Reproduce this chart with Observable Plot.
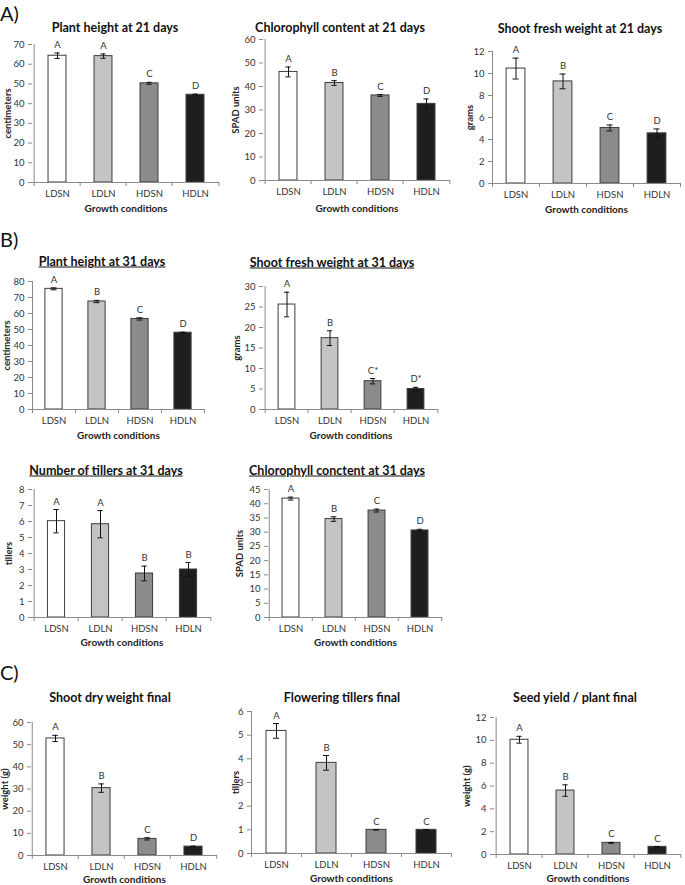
<!DOCTYPE html>
<html><head><meta charset="utf-8">
<script src="https://cdn.jsdelivr.net/npm/d3@7"></script>
<script src="https://cdn.jsdelivr.net/npm/@observablehq/plot@0.6"></script>
<style>
body{margin:0;background:#fff;font-family:Lato,"Open Sans",sans-serif;}
#page{position:relative;width:685px;height:885px;overflow:hidden;background:#fff;}
.title{position:absolute;transform:translate(-50%,-50%);font-weight:700;font-size:12.5px;white-space:nowrap;color:#111;line-height:1.2;}
.title.u{text-decoration:underline;}
.sec{position:absolute;font-size:20px;color:#111;line-height:1.2;}
.panel{position:absolute;}
</style></head><body><div id="page"></div>
<script>
// ---------- data ----------
const categories = ["LDSN", "LDLN", "HDSN", "HDLN"];
const barColors = ["#ffffff", "#c4c4c4", "#8b8b8b", "#1e1e1e"];
const sectionLabels = ["A)", "B)", "C)"];
const xLabel = "Growth conditions";

const titles = [
  "Plant height at 21 days", "Chlorophyll content at 21 days", "Shoot fresh weight at 21 days",
  "Plant height at 31 days", "Shoot fresh weight at 31 days",
  "Number of tillers at 31 days", "Chlorophyll conctent at 31 days",
  "Shoot dry weight final", "Flowering tillers final", "Seed yield / plant final"
];
const yLabels = ["centimeters", "SPAD units", "grams", "centimeters", "grams", "tillers", "SPAD units", "weight (g)", "tillers", "weight (g)"];

const p1Values = [64.3, 64.1, 50.3, 44.5], p1Errors = [1.4, 1.1, 0.5, 0.3], p1Letters = ["A", "A", "C", "D"], p1Ticks = [0, 10, 20, 30, 40, 50, 60, 70];
const p2Values = [46.2, 41.5, 36.2, 32.6], p2Errors = [2.1, 1.0, 0.4, 2.1], p2Letters = ["A", "B", "C", "D"], p2Ticks = [0, 10, 20, 30, 40, 50, 60];
const p3Values = [10.45, 9.28, 5.05, 4.56], p3Errors = [0.95, 0.67, 0.27, 0.4], p3Letters = ["A", "B", "C", "D"], p3Ticks = [0, 2, 4, 6, 8, 10, 12];
const p4Values = [75.4, 67.5, 56.6, 48.0], p4Errors = [0.6, 0.7, 0.7, 0.3], p4Letters = ["A", "B", "C", "D"], p4Ticks = [0, 10, 20, 30, 40, 50, 60, 70, 80];
const p5Values = [25.6, 17.4, 6.9, 5.0], p5Errors = [3.0, 1.8, 0.65, 0.4], p5Letters = ["A", "B", "C*", "D*"], p5Ticks = [0, 5, 10, 15, 20, 25, 30];
const p6Values = [6.02, 5.83, 2.75, 3.0], p6Errors = [0.73, 0.85, 0.46, 0.44], p6Letters = ["A", "A", "B", "B"], p6Ticks = [0, 1, 2, 3, 4, 5, 6, 7, 8];
const p7Values = [41.8, 34.6, 37.6, 30.6], p7Errors = [0.5, 0.8, 0.5, 0.4], p7Letters = ["A", "B", "C", "D"], p7Ticks = [0, 5, 10, 15, 20, 25, 30, 35, 40, 45];
const p8Values = [52.8, 30.4, 7.5, 4.0], p8Errors = [1.4, 1.9, 0.5, 0.2], p8Letters = ["A", "B", "C", "D"], p8Ticks = [0, 10, 20, 30, 40, 50, 60];
const p9Values = [5.18, 3.83, 1.0, 1.0], p9Errors = [0.31, 0.31, 0, 0], p9Letters = ["A", "B", "C", "C"], p9Ticks = [0, 1, 2, 3, 4, 5, 6];
const p10Values = [10.05, 5.6, 1.02, 0.67], p10Errors = [0.3, 0.5, 0.04, 0.03], p10Letters = ["A", "B", "C", "C"], p10Ticks = [0, 2, 4, 6, 8, 10, 12];

// ---------- layout ----------
const layout = [
  {left: 0,   axisX: 32,  axisRight: 219, yTop: 44,  yBottom: 182, labelCx: 9,   tcx: 115, tcy: 27,  u: false, xlo: 29},
  {left: 225, axisX: 263, axisRight: 450, yTop: 39,  yBottom: 180, labelCx: 237, tcx: 340, tcy: 27,  u: false, xlo: 31},
  {left: 455, axisX: 492, axisRight: 680, yTop: 51,  yBottom: 183, labelCx: 471, tcx: 580, tcy: 28,  u: false, xlo: 29},
  {left: 0,   axisX: 32,  axisRight: 204, yTop: 281, yBottom: 409, labelCx: 8,   tcx: 102, tcy: 261, u: true,  xlo: 29},
  {left: 225, axisX: 263, axisRight: 438, yTop: 286, yBottom: 409, labelCx: 238, tcx: 332, tcy: 262, u: true,  xlo: 29},
  {left: 0,   axisX: 32,  axisRight: 211, yTop: 489, yBottom: 617, labelCx: 10,  tcx: 106, tcy: 470, u: true,  xlo: 28},
  {left: 225, axisX: 268, axisRight: 442, yTop: 489, yBottom: 617, labelCx: 241, tcx: 337, tcy: 470, u: true,  xlo: 28},
  {left: 0,   axisX: 31,  axisRight: 217, yTop: 722, yBottom: 855, labelCx: 6,   tcx: 110, tcy: 697, u: false, xlo: 27},
  {left: 225, axisX: 251, axisRight: 451, yTop: 711, yBottom: 853, labelCx: 237, tcx: 342, tcy: 697, u: false, xlo: 28},
  {left: 455, axisX: 494, axisRight: 681, yTop: 717, yBottom: 854, labelCx: 468, tcx: 575, tcy: 697, u: false, xlo: 27}
];
const sectionPos = [{x: 0, y: 1}, {x: 0, y: 227}, {x: 0, y: 660}];

const panels = [
  [p1Values, p1Errors, p1Letters, p1Ticks],
  [p2Values, p2Errors, p2Letters, p2Ticks],
  [p3Values, p3Errors, p3Letters, p3Ticks],
  [p4Values, p4Errors, p4Letters, p4Ticks],
  [p5Values, p5Errors, p5Letters, p5Ticks],
  [p6Values, p6Errors, p6Letters, p6Ticks],
  [p7Values, p7Errors, p7Letters, p7Ticks],
  [p8Values, p8Errors, p8Letters, p8Ticks],
  [p9Values, p9Errors, p9Letters, p9Ticks],
  [p10Values, p10Errors, p10Letters, p10Ticks]
];

const page = document.getElementById("page");
const axisGray = "#8a8a8a";
const FONT = "Lato, 'Open Sans', sans-serif";

panels.forEach(([values, errors, letters, ticks], k) => {
  const g = layout[k];
  const mt = 8, mb = 34, mr = 4;
  const ml = g.axisX - g.left;
  const width = g.axisRight + mr - g.left;
  const height = (g.yBottom - g.yTop) + mt + mb;
  const step = (g.axisRight - g.axisX) / 4;
  const barW = step * 0.4;
  const capW = 6;
  const ymax = d3.max(ticks);
  const rows = categories.map((c, i) => ({cat: c, value: values[i], err: errors[i], letter: letters[i], color: barColors[i]}));
  const chart = Plot.plot({
    width, height,
    marginLeft: ml, marginRight: mr, marginTop: mt, marginBottom: mb,
    style: {fontFamily: FONT, fontSize: "9.5px", color: "#333", background: "transparent", overflow: "visible"},
    x: {domain: categories, padding: 0, label: null},
    y: {domain: [0, ymax], label: null},
    marks: [
      Plot.barY(rows, {x: "cat", y: "value", fill: "color", stroke: "#3c3c3c", strokeWidth: 1,
        insetLeft: (step - barW) / 2, insetRight: (step - barW) / 2}),
      Plot.ruleY([0], {stroke: axisGray}),
      Plot.ruleX([categories[0]], {x: d => d, y1: 0, y2: ymax, dx: -step / 2, stroke: axisGray}),
      Plot.ruleX(categories, {x: d => d, y1: 0, y2: 0, insetBottom: -4, dx: -step / 2, stroke: axisGray}),
      Plot.ruleX([categories[3]], {x: d => d, y1: 0, y2: 0, insetBottom: -4, dx: step / 2, stroke: axisGray}),
      Plot.ruleX(rows, {x: "cat", y1: d => d.value - d.err, y2: d => d.value + d.err, stroke: "#111"}),
      Plot.tickY(rows, {x: "cat", y: d => d.value + d.err, insetLeft: (step - capW) / 2, insetRight: (step - capW) / 2, stroke: "#111"}),
      Plot.tickY(rows, {x: "cat", y: d => d.value - d.err, insetLeft: (step - capW) / 2, insetRight: (step - capW) / 2, stroke: "#111"}),
      Plot.text(rows, {x: "cat", y: d => d.value + d.err, text: "letter", dy: -8, fill: "#333", fontSize: 9.5}),
      Plot.axisY({ticks, tickFormat: d => String(d), tickSize: 4, tickPadding: 4, stroke: axisGray, fill: "#333", fontSize: 9.5, label: null}),
      Plot.axisY({ticks: [], label: yLabels[k], labelAnchor: "center", labelArrow: "none",
        labelOffset: g.axisX - (g.labelCx - 5), fontWeight: "bold", fontSize: 9.5, fill: "#222"}),
      Plot.axisX({tickSize: 0, tickPadding: 8, fill: "#333", fontSize: 9.5, label: null}),
      Plot.axisX({ticks: [], label: xLabel, labelAnchor: "center", labelArrow: "none", labelOffset: g.xlo,
        fontWeight: "bold", fontSize: 10, fill: "#222"})
    ]
  });
  const wrap = document.createElement("div");
  wrap.className = "panel";
  wrap.style.left = g.left + "px";
  wrap.style.top = (g.yTop - mt) + "px";
  wrap.appendChild(chart);
  page.appendChild(wrap);

  const t = document.createElement("div");
  t.className = "title" + (g.u ? " u" : "");
  t.style.left = g.tcx + "px";
  t.style.top = g.tcy + "px";
  t.textContent = titles[k];
  page.appendChild(t);
});

sectionLabels.forEach((s, i) => {
  const d = document.createElement("div");
  d.className = "sec";
  d.style.left = sectionPos[i].x + "px";
  d.style.top = sectionPos[i].y + "px";
  d.textContent = s;
  page.appendChild(d);
});
</script>
</body></html>
